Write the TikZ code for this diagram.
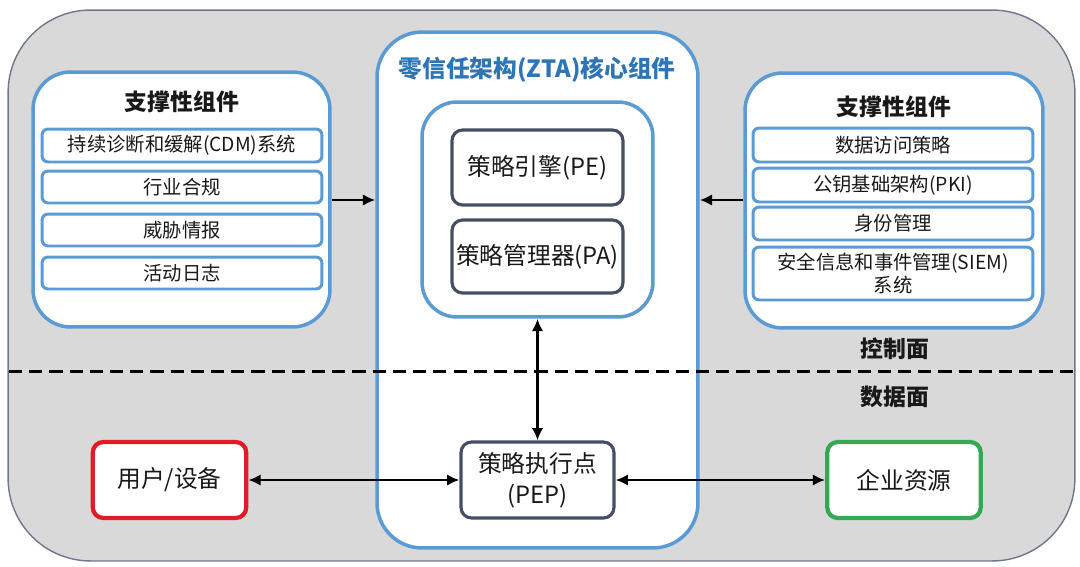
\documentclass[tikz,border=0pt]{standalone}
\usepackage{fontspec}
\setmainfont{Noto Sans CJK SC}
\usetikzlibrary{arrows.meta}
\definecolor{bggray}{RGB}{217,217,217}
\definecolor{outline}{RGB}{110,120,140}
\definecolor{zblue}{RGB}{91,155,213}
\definecolor{ztitle}{RGB}{46,117,182}
\definecolor{dkbox}{RGB}{68,79,99}
\definecolor{ured}{RGB}{226,28,38}
\definecolor{egreen}{RGB}{52,168,83}
\definecolor{txt}{RGB}{25,25,25}
\begin{document}
\begin{tikzpicture}[x=0.02cm,y=-0.02cm,
  outerbox/.style={draw=outline, line width=0.8pt, fill=bggray, rounded corners=1.65cm, inner sep=0pt},
  panel/.style={draw=zblue, line width=2pt, fill=white, inner sep=0pt},
  item/.style={draw=zblue, line width=1.7pt, fill=white, rounded corners=3.5pt, minimum width=5.6cm,
    inner sep=0pt, align=center, text=txt, font=\fontsize{11}{13}\selectfont},
  ttl/.style={text=txt, font=\fontsize{13}{15}\selectfont\bfseries, inner sep=0pt},
  corebox/.style={draw=dkbox, line width=1.8pt, fill=white, rounded corners=6pt, inner sep=0pt,
    align=center, text=txt, font=\fontsize{13.5}{17.5}\selectfont},
  endbox/.style={line width=2.4pt, fill=white, rounded corners=6pt, inner sep=0pt,
    align=center, text=txt, font=\fontsize{13.5}{16}\selectfont, minimum width=3.07cm, minimum height=1.52cm},
  link/.style={{Latex[length=7pt,width=6.5pt]}-{Latex[length=7pt,width=6.5pt]}, line width=1.6pt, black},
  push/.style={-{Latex[length=7pt,width=6.5pt]}, line width=1.6pt, black},
  plane/.style={text=txt, font=\fontsize{13}{15}\selectfont\bfseries, inner sep=0pt},
  divider/.style={line width=1.7pt, black, dash pattern=on 7.5pt off 4pt}
]
\useasboundingbox (0,0) rectangle (1080,566);

% outer background
\node[outerbox, minimum width=21.34cm, minimum height=11.02cm] (outer) at (541.5,285.5) {};

% left supporting components
\node[panel, rounded corners=0.75cm, minimum width=5.94cm, minimum height=5.1cm] (L) at (181.5,199.5) {};
\node[ttl] (Lt) at (182,102) {支撑性组件};
\node[item, minimum height=0.66cm] (L1) at (182,145.5) {持续诊断和缓解(CDM)系统};
\node[item, minimum height=0.64cm] (L2) at (182,187) {行业合规};
\node[item, minimum height=0.64cm] (L3) at (182,230) {威胁情报};
\node[item, minimum height=0.64cm] (L4) at (182,273) {活动日志};

% right supporting components
\node[panel, rounded corners=0.75cm, minimum width=5.96cm, minimum height=5.1cm] (R) at (894,200.5) {};
\node[ttl] (Rt) at (894,107) {支撑性组件};
\node[item, minimum height=0.68cm] (R1) at (893,145) {数据访问策略};
\node[item, minimum height=0.68cm] (R2) at (893,185) {公钥基础架构(PKI)};
\node[item, minimum height=0.66cm] (R3) at (893,223.5) {身份管理};
\node[item, minimum height=1.06cm] (R4) at (893,273.5) {安全信息和事件管理(SIEM)\\系统};

% core ZTA
\node[panel, rounded corners=0.9cm, minimum width=6.42cm, minimum height=10.32cm] (Z) at (537.5,290) {};
\node[text=ztitle, font=\fontsize{13.5}{16}\selectfont\bfseries, inner sep=0pt] (Zt) at (537,70) {零信任架构(ZTA)核心组件};
\node[panel, rounded corners=0.7cm, minimum width=4.62cm, minimum height=4.3cm] (I) at (537.5,209.5) {};
\node[corebox, minimum width=3.42cm, minimum height=1.5cm] (PE) at (537.5,167.5) {策略引擎(PE)};
\node[corebox, minimum width=3.42cm, minimum height=1.46cm] (PA) at (537.5,256.5) {策略管理器(PA)};
\node[corebox, minimum width=3.06cm, minimum height=1.52cm] (PEP) at (537.5,480) {策略执行点\\(PEP)};

% data plane endpoints
\node[endbox, draw=ured] (U) at (169.5,480) {用户/设备};
\node[endbox, draw=egreen] (E) at (904,480) {企业资源};

% plane labels and divider
\node[plane] (cp) at (895,349) {控制面};
\node[plane] (dp) at (895,397) {数据面};
\coordinate (dl) at (9,371);
\coordinate (dr) at (1073,371);
\draw[divider] (dl) -- (dr);

% connectors
\draw[push] (L.east |- 0,200) -- (Z.west |- 0,200);
\draw[push] (R.west |- 0,200) -- (Z.east |- 0,200);
\draw[link] (I.south) -- (PEP.north);
\draw[link] (U.east) -- (PEP.west);
\draw[link] (PEP.east) -- (E.west);
\end{tikzpicture}
\end{document}
